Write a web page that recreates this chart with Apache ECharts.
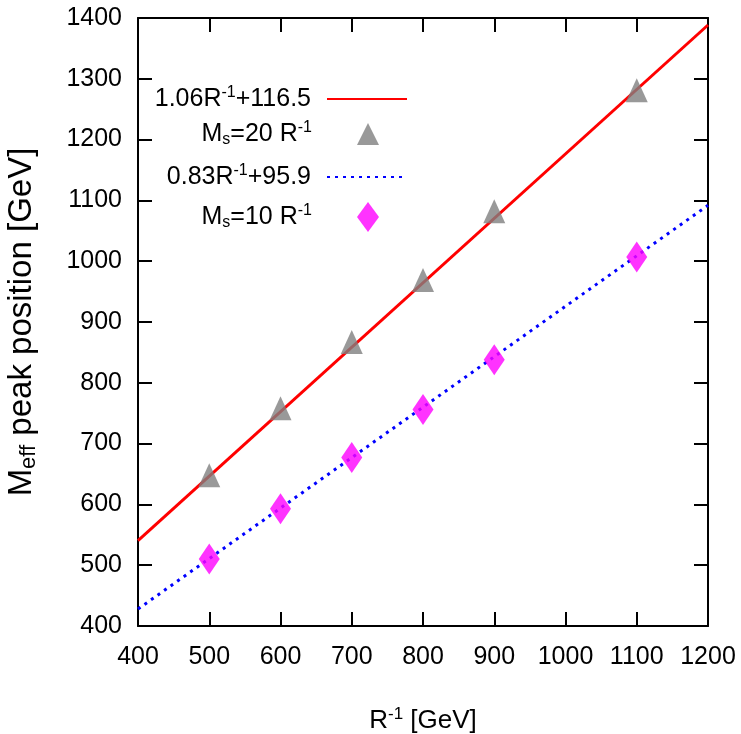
<!DOCTYPE html>
<html>
<head>
<meta charset="utf-8">
<script src="https://cdn.jsdelivr.net/npm/echarts@6/dist/echarts.min.js"></script>
<style>
  html, body { margin: 0; padding: 0; background: #fff; }
  #chart { width: 741px; height: 734px; }
</style>
</head>
<body>
<div id="chart"></div>
<script>
// R^-1 points
const rInv = [500, 600, 700, 800, 900, 1100];
// peak positions
const ms20 = [648, 758, 867, 969, 1082, 1281];
const ms10 = [510, 593, 677, 756, 838, 1007];
// fit line end points (x = 400 and 1200)
const fitX = [400, 1200];
const fit20 = [540.5, 1388.5];
const fit10 = [427.9, 1091.9];

const FONT = '"Liberation Sans", Arial, sans-serif';

const pairs = (xs, ys) => xs.map((x, i) => [x, ys[i]]);

const rich = {
  t: { fontFamily: FONT, fontSize: 25, color: '#000' },
  sup: { fontFamily: FONT, fontSize: 16, color: '#000', verticalAlign: 'top', padding: [0, 0, 12, 0] },
  sub: { fontFamily: FONT, fontSize: 16, color: '#000', verticalAlign: 'bottom', padding: [12, 0, 0, 0] },
  p1: { padding: [0, 11, 0, 0] },
  p2: { padding: [0, 40, 0, 0] },
  x: { fontFamily: FONT, fontSize: 26, color: '#000' },
  xsup: { fontFamily: FONT, fontSize: 17, color: '#000', verticalAlign: 'top', padding: [0, 0, 12, 0] },
  y: { fontFamily: FONT, fontSize: 33, color: '#000' },
  ysub: { fontFamily: FONT, fontSize: 22, color: '#000', verticalAlign: 'bottom', padding: [14, 0, 0, 0] },
};

const legendText = {
  fit20: '{t|1.06R}{sup|-1}{t|+116.5}{p1|}',
  ms20: '{t|M}{sub|s}{t|=20 R}{sup|-1}{p2|}',
  fit10: '{t|0.83R}{sup|-1}{t|+95.9}{p1|}',
  ms10: '{t|M}{sub|s}{t|=10 R}{sup|-1}{p2|}',
};

function legendRow(name, right, top, w, h, item) {
  return {
    orient: 'horizontal',
    align: 'right',
    right: right,
    top: top,
    itemWidth: w,
    itemHeight: h,
    padding: 0,
    data: [Object.assign({ name: name }, item || {})],
    formatter: (n) => legendText[n],
    textStyle: { rich: rich },
  };
}

const axisCommon = {
  type: 'value',
  interval: 100,
  axisLine: { show: true, lineStyle: { color: '#000', width: 2 } },
  axisTick: { show: true, inside: true, length: 14, lineStyle: { color: '#000', width: 2 } },
  splitLine: { show: false },
};

const tickLabel = { fontFamily: FONT, fontSize: 25, color: '#000', formatter: (v) => String(v) };

const option = {
  backgroundColor: '#fff',
  animation: false,
  grid: { left: 138, right: 33, top: 18, bottom: 108, containLabel: false, outerBoundsMode: 'none' },
  legend: [
    legendRow('fit20', 333, 85, 80, 14, { itemStyle: { opacity: 0 } }),
    legendRow('ms20', 362, 120, 22, 22),
    legendRow('fit10', 333, 163, 80, 14, { itemStyle: { opacity: 0 } }),
    legendRow('ms10', 362, 202, 22, 30),
  ],
  xAxis: [
    Object.assign({}, axisCommon, {
      min: 400, max: 1200, position: 'bottom',
      axisLabel: Object.assign({ margin: 19 }, tickLabel),
      name: '{x|R}{xsup|-1}{x| [GeV]}',
      nameLocation: 'middle',
      nameGap: 80,
      nameTextStyle: { rich: rich },
    }),
    Object.assign({}, axisCommon, {
      min: 400, max: 1200, position: 'top',
      axisLabel: { show: false },
    }),
  ],
  yAxis: [
    Object.assign({}, axisCommon, {
      min: 400, max: 1400, position: 'left',
      axisLabel: Object.assign({ margin: 16 }, tickLabel),
      name: '{y|M}{ysub|eff}{y| peak position [GeV]}',
      nameLocation: 'middle',
      nameRotate: 90,
      nameGap: 98,
      nameTextStyle: { rich: rich },
    }),
    Object.assign({}, axisCommon, {
      min: 400, max: 1400, position: 'right',
      axisLabel: { show: false },
    }),
  ],
  series: [
    {
      name: 'fit20',
      type: 'line',
      data: pairs(fitX, fit20),
      symbol: 'none',
      lineStyle: { color: '#ff0000', width: 3 },
      itemStyle: { color: '#ff0000' },
      z: 2,
    },
    {
      name: 'ms20',
      type: 'scatter',
      data: pairs(rInv, ms20),
      symbol: 'triangle',
      symbolSize: [22, 24],
      itemStyle: { color: '#808080' },
      z: 3,
    },
    {
      name: 'fit10',
      type: 'line',
      data: pairs(fitX, fit10),
      symbol: 'none',
      lineStyle: { color: '#0000ff', width: 3, type: [3, 5] },
      itemStyle: { color: '#0000ff' },
      z: 2,
    },
    {
      name: 'ms10',
      type: 'scatter',
      data: pairs(rInv, ms10),
      symbol: 'diamond',
      symbolSize: [21, 31],
      itemStyle: { color: '#ff00ff' },
      z: 3,
    },
  ],
};

const myChart = echarts.init(document.getElementById('chart'));
myChart.setOption(option);
</script>
</body>
</html>
